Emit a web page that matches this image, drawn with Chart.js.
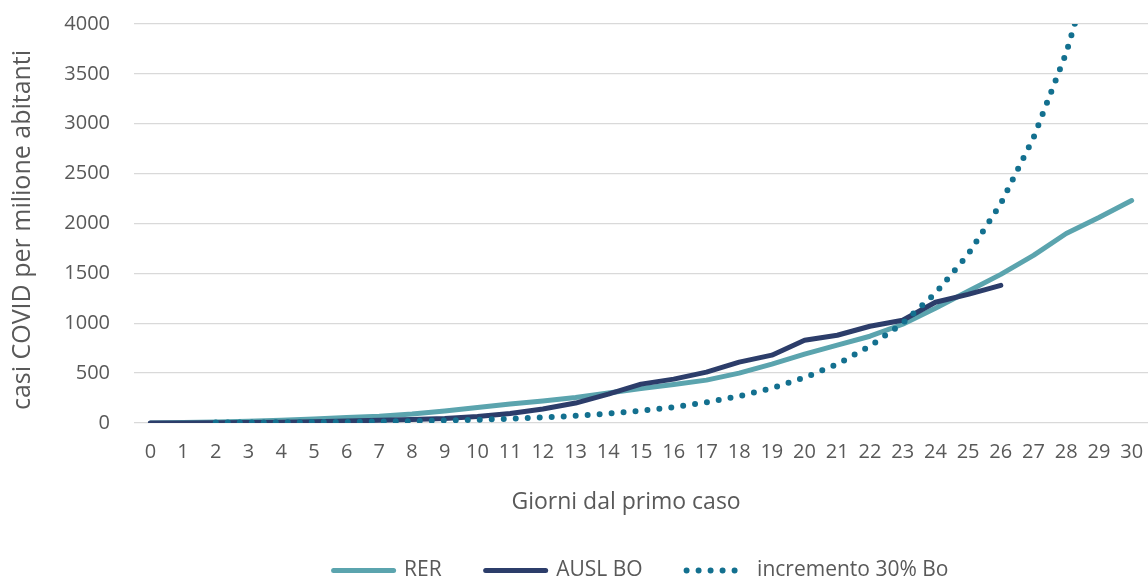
<!DOCTYPE html>
<html>
<head>
<meta charset="utf-8">
<script src="https://cdn.jsdelivr.net/npm/chart.js@4.4.1/dist/chart.umd.min.js"></script>
<style>
  html, body { margin: 0; padding: 0; background: #ffffff; }
  #wrap { width: 1148px; height: 581px; position: relative; }
</style>
</head>
<body>
<div id="wrap"><canvas id="casiChart"></canvas></div>
<script>
// giorni dal primo caso
const giorni = ['0','1','2','3','4','5','6','7','8','9','10','11','12','13','14','15',
  '16','17','18','19','20','21','22','23','24','25','26','27','28','29','30'];

// casi per milione di abitanti
const rer = [0, 4, 10, 18, 28, 40, 55, 68, 90, 120, 155, 190, 220, 255, 300, 345,
  385, 430, 500, 590, 690, 780, 870, 990, 1150, 1320, 1490, 1680, 1900, 2060, 2230];
const auslBo = [0, 0, 2, 5, 8, 12, 20, 28, 35, 45, 65, 95, 140, 200, 290, 390,
  440, 510, 610, 680, 830, 880, 970, 1030, 1210, 1290, 1380, null, null, null, null];
const incremento = [null, null, 4, 5, 7, 9, 11, 15, 19, 25, 33, 43, 56, 72, 94, 122,
  159, 207, 269, 350, 455, 590, 770, 1000, 1300, 1690, 2200, 2860, 3710, 4830, null];

const yTicks = [0, 500, 1000, 1500, 2000, 2500, 3000, 3500, 4000];

const grigio = '#595959';
const font = 'Open Sans';
const trasparente = 'rgba(0,0,0,0)';

const ctx = document.getElementById('casiChart').getContext('2d');
new Chart(ctx, {
  type: 'line',
  data: {
    labels: giorni,
    datasets: [
      {
        label: 'RER',
        data: rer,
        borderColor: '#5ba4ae',
        backgroundColor: '#5ba4ae',
        borderWidth: 5,
        borderCapStyle: 'round',
        borderJoinStyle: 'round',
        pointRadius: 0,
        tension: 0,
        order: 2
      },
      {
        label: 'AUSL BO',
        data: auslBo,
        borderColor: '#2c3d6a',
        backgroundColor: '#2c3d6a',
        borderWidth: 5,
        borderCapStyle: 'round',
        borderJoinStyle: 'round',
        pointRadius: 0,
        tension: 0,
        order: 1
      },
      {
        label: 'incremento 30% Bo',
        data: incremento,
        borderColor: '#13708f',
        backgroundColor: '#13708f',
        borderWidth: 6,
        borderDash: [0, 12],
        borderCapStyle: 'round',
        pointRadius: 0,
        tension: 0,
        order: 0
      }
    ]
  },
  options: {
    responsive: true,
    maintainAspectRatio: false,
    animation: false,
    layout: {
      padding: { top: 24, right: 0, left: 0, bottom: -10 }
    },
    plugins: {
      tooltip: { enabled: false },
      legend: {
        position: 'bottom',
        fullSize: false,
        labels: {
          usePointStyle: true,
          pointStyle: 'line',
          pointStyleWidth: 60,
          padding: 44,
          color: grigio,
          font: { family: font, size: 21 },
          generateLabels: (chart) => chart.data.datasets.map((ds, i) => ({
            text: ds.label,
            datasetIndex: i,
            fillStyle: ds.borderColor,
            strokeStyle: ds.borderColor,
            fontColor: grigio,
            lineWidth: ds.borderWidth,
            lineDash: ds.borderDash || [],
            lineCap: ds.borderCapStyle,
            pointStyle: 'line',
            hidden: false
          }))
        }
      }
    },
    scales: {
      x: {
        type: 'category',
        offset: true,
        grid: { display: true, color: trasparente, tickColor: trasparente, drawTicks: true, tickLength: 17 },
        border: { display: false },
        ticks: {
          color: grigio,
          font: { family: font, size: 20 },
          padding: 0,
          autoSkip: false,
          maxRotation: 0
        },
        title: {
          display: true,
          text: 'Giorni dal primo caso\u00a0\u00a0\u00a0\u00a0\u00a0',
          color: grigio,
          font: { family: font, size: 23 },
          padding: { top: 0, bottom: 0 }
        },
        afterFit: (scale) => { scale.height = 93; }
      },
      y: {
        min: 0,
        max: 4000,
        afterBuildTicks: (scale) => { scale.ticks = yTicks.map(v => ({ value: v })); },
        grid: { color: '#d9d9d9', lineWidth: 1.3, drawTicks: true, tickLength: 24, tickColor: trasparente },
        border: { display: false },
        ticks: {
          color: grigio,
          font: { family: font, size: 20 },
          padding: 0,
          callback: (v) => String(v)
        },
        title: {
          display: true,
          text: 'casi COVID per milione abitanti\u00a0\u00a0',
          color: grigio,
          font: { family: font, size: 25 },
          padding: { top: 8, bottom: 0 }
        },
        afterFit: (scale) => { scale.width = 134; }
      }
    }
  }
});
</script>
</body>
</html>
